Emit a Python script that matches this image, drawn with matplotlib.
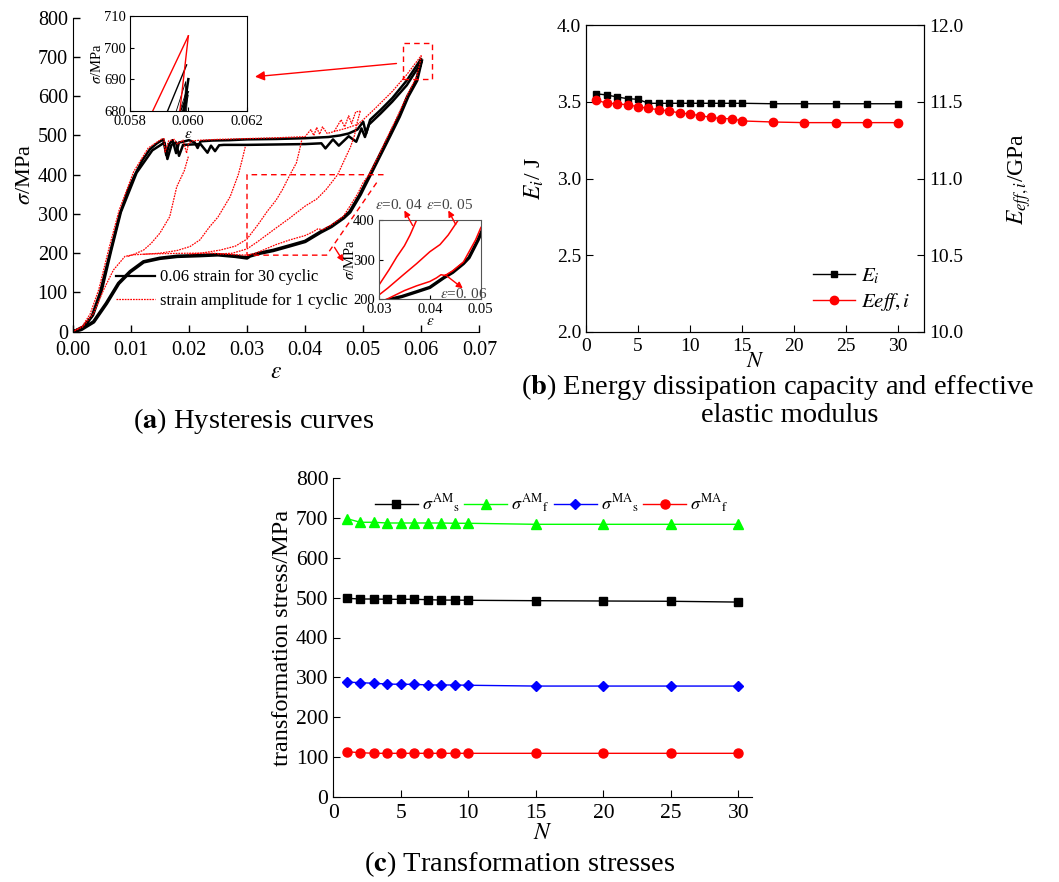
import matplotlib
matplotlib.use("Agg")
import matplotlib.pyplot as plt
import numpy as np

plt.rcParams['font.family'] = ['Liberation Serif', 'DejaVu Serif']
plt.rcParams['mathtext.fontset'] = 'stix'

W, H = 1059, 882

# ---------------- (a) hysteresis curves ----------------
# black: 0.06 strain, 30 cycles (first and last loading paths + common unloading)
eps_c1 = [0, 0.0018, 0.0033, 0.0047, 0.0064, 0.0081, 0.0095, 0.0107, 0.012, 0.0133, 0.0145,
          0.0156, 0.0161, 0.0166, 0.0172, 0.0178, 0.0183, 0.019, 0.02, 0.021, 0.0215, 0.022,
          0.024, 0.027, 0.03, 0.035, 0.04, 0.044, 0.046, 0.0475, 0.049, 0.05, 0.0505, 0.0512,
          0.053, 0.055, 0.0575, 0.05994]
sig_c1 = [0, 13, 40, 100, 200, 300, 360, 400, 437, 465, 480, 490, 450, 478, 488, 455, 482,
          484, 488, 482, 468, 485, 487, 488, 490, 491, 493, 496, 500, 505, 515, 535, 505, 540,
          565, 595, 640, 694.5]
eps_c30 = [0, 0.002, 0.0035, 0.005, 0.0066, 0.0083, 0.011, 0.0137, 0.0158, 0.0163, 0.017,
           0.0178, 0.0183, 0.019, 0.022, 0.0232, 0.0238, 0.0245, 0.0252, 0.026, 0.03, 0.035,
           0.04, 0.0428, 0.0435, 0.0448, 0.0458, 0.0475, 0.0488, 0.0497, 0.0503, 0.051, 0.053,
           0.055, 0.0575, 0.06]
sig_c30 = [0, 12, 42, 105, 205, 305, 405, 462, 482, 440, 476, 482, 448, 476, 478, 456, 474,
           460, 475, 476, 476, 477, 478, 480, 467, 490, 474, 498, 484, 518, 496, 528, 556,
           586, 628, 686]
eps_unl = [0.06, 0.0592, 0.0577, 0.0562, 0.0546, 0.0529, 0.0512, 0.05, 0.0495, 0.0477, 0.0466,
           0.0445, 0.0427, 0.04, 0.0374, 0.0345, 0.0322, 0.0305, 0.03, 0.028, 0.025, 0.022,
           0.018, 0.015, 0.0122, 0.0099, 0.0079, 0.0058, 0.0036, 0.0015, 0]
sig_unl = [690, 640, 600, 548, 500, 450, 400, 365, 350, 305, 290, 268, 254, 230, 219, 207,
           200, 193, 188, 192, 196, 194, 192, 187, 178, 153, 123, 72, 25, 6, 0]

# red: strain amplitude for 1 cycle (0.02 ... 0.06)
eps_rl = [0, 0.0017, 0.003, 0.0045, 0.0062, 0.008, 0.0105, 0.013, 0.0152, 0.0157, 0.0159,
          0.0165, 0.0175, 0.018, 0.019, 0.0196, 0.0199, 0.0205, 0.022, 0.025, 0.03, 0.035,
          0.04, 0.041, 0.0415, 0.042, 0.0425, 0.043, 0.0438, 0.045, 0.047, 0.049, 0.05,
          0.052, 0.055, 0.0575, 0.06]
sig_rl = [0, 15, 45, 108, 210, 310, 408, 468, 490, 492, 458, 486, 490, 478, 488, 455, 478,
          486, 488, 490, 492, 494, 497, 515, 500, 520, 503, 522, 505, 510, 518, 528, 540, 568,
          612, 655, 703.7]
eps_r05 = [0.045, 0.0462, 0.0468, 0.0475, 0.048, 0.0487, 0.0495]
sig_r05 = [510, 540, 522, 550, 530, 560, 562]

eps_u02 = [0.0199, 0.0192, 0.0179, 0.0167, 0.015, 0.0135, 0.0122, 0.0105, 0.0093]
sig_u02 = [446, 410, 369, 293, 251, 225, 208, 197, 191]
eps_u03 = [0.0297, 0.0292, 0.0285, 0.0271, 0.025, 0.0236, 0.0219, 0.0202, 0.018, 0.015, 0.012]
sig_u03 = [471, 440, 400, 344, 292, 268, 234, 217, 207, 200, 197]
eps_u04 = [0.0394, 0.039, 0.0385, 0.0374, 0.0361, 0.035, 0.0335, 0.032, 0.03, 0.028, 0.0254,
           0.022, 0.02]
sig_u04 = [487, 460, 430, 400, 362, 335, 307, 275, 236, 218, 208, 200, 198]
eps_u05 = [0.0495, 0.049, 0.0485, 0.0478, 0.047, 0.0456, 0.0436, 0.042, 0.04, 0.0374, 0.0348,
           0.0317, 0.03, 0.0275, 0.025]
sig_u05 = [562, 535, 500, 470, 445, 400, 362, 338, 320, 290, 262, 228, 211, 200, 198]
eps_u06 = [0.06, 0.05971, 0.0592, 0.0575, 0.056, 0.0543, 0.0527, 0.051, 0.05, 0.049, 0.0466,
           0.0445, 0.043, 0.0422, 0.0413, 0.04, 0.0374, 0.035, 0.0315, 0.03, 0.027, 0.024, 0.02,
           0.016, 0.013, 0.0105, 0.009, 0.007, 0.0053, 0.0036, 0.0017, 0]
sig_u06 = [703.7, 680, 650, 600, 552, 500, 450, 400, 380, 350, 294, 272, 260, 262, 254, 245,
           234, 222, 200, 195, 197, 200, 200, 199, 198, 196, 192, 157, 106, 47, 12, 0]

# intermediate cycle peaks seen in the upper inset
pk_eps_start = [0.059486, 0.0596, 0.059714, 0.059771]
pk_eps = [0.059909, 0.059966, 0.059977, 0.06]
pk_sig = [689.2, 687.1, 686.0, 685.0]
pk_eps_end = [0.059851, 0.059886, 0.05992, 0.059829]

# ---------------- (b) energy / modulus ----------------
N_b = [1, 2, 3, 4, 5, 6, 7, 8, 9, 10, 11, 12, 13, 14, 15, 18, 21, 24, 27, 30]
E_i = [3.552, 3.544, 3.531, 3.52, 3.516, 3.49, 3.49, 3.49, 3.49, 3.49, 3.49, 3.49, 3.49,
       3.49, 3.49, 3.487, 3.487, 3.487, 3.487, 3.487]
E_eff = [11.511, 11.49, 11.487, 11.48, 11.468, 11.457, 11.448, 11.44, 11.427, 11.42, 11.409,
         11.399, 11.39, 11.39, 11.375, 11.368, 11.364, 11.364, 11.364, 11.364]

# ---------------- (c) transformation stresses ----------------
N_c = [1, 2, 3, 4, 5, 6, 7, 8, 9, 10, 15, 20, 25, 30]
s_AM_s = [498.5, 496.7, 496.7, 496, 496, 496, 495, 494, 494, 493.5, 492.5, 491.7, 491, 489]
s_AM_f = [698.7, 689.5, 689.5, 687.7, 687.7, 687.7, 687.7, 687.7, 687, 687, 684.4, 684.4,
          684.4, 684.4]
s_MA_s = [288, 286.5, 285, 283, 282.4, 282.4, 280.7, 280.7, 280.7, 280, 278, 278, 278, 278]
s_MA_f = [113, 110.6, 109, 109, 109, 109, 109, 109, 109, 109, 109, 109, 109, 109]


def box(x0, y0, x1, y1):
    # pixel box -> figure fraction rect
    return [x0 / W, 1 - y1 / H, (x1 - x0) / W, (y1 - y0) / H]


def fp(x, y):
    return (x / W, 1 - y / H)


fig = plt.figure(figsize=(W / 100, H / 100), dpi=100)
RED_DOT = (0, (1.4, 0.8))


def draw_hysteresis(ax, lw_k=1.8, lw_r=0.9, red_ls=RED_DOT):
    ax.plot(eps_c30, sig_c30, color='black', lw=lw_k)
    ax.plot(eps_c1, sig_c1, color='black', lw=lw_k)
    ax.plot(eps_unl, sig_unl, color='black', lw=lw_k + 0.8)
    for e0, e1, s1, e2 in zip(pk_eps_start, pk_eps, pk_sig, pk_eps_end):
        ax.plot([e0, e1, e2], [680 - 3, s1, 680 - 3], color='black', lw=lw_k * 0.6)
    for ex, sx in [(eps_rl, sig_rl), (eps_r05, sig_r05), (eps_u02, sig_u02), (eps_u03, sig_u03),
                   (eps_u04, sig_u04), (eps_u05, sig_u05), (eps_u06, sig_u06)]:
        ax.plot(ex, sx, color='red', lw=lw_r, ls=red_ls)


ax_a = fig.add_axes(box(72.7, 17.7, 479.4, 331.7))
draw_hysteresis(ax_a)
ax_a.plot([], [], color='black', lw=1.6, label='0.06 strain for 30 cyclic')
ax_a.plot([], [], color='red', lw=0.9, ls=RED_DOT, label='strain amplitude for 1 cyclic')
ax_a.set_xlim(0, 0.07)
ax_a.set_ylim(0, 800)
ax_a.set_xticks(np.arange(0, 0.0701, 0.01))
ax_a.set_xticklabels(['%.2f' % v for v in np.arange(0, 0.0701, 0.01)])
ax_a.set_yticks(range(0, 801, 100))
ax_a.spines['top'].set_visible(False)
ax_a.spines['right'].set_visible(False)
ax_a.tick_params(direction='in', labelsize=14.5, length=5, width=1)
ax_a.tick_params(axis='x', pad=7)
ax_a.set_xlabel(r'$\varepsilon$', fontsize=17, labelpad=1)
ax_a.set_ylabel(r'$\sigma$/MPa', fontsize=16, labelpad=2)
hh, ll = ax_a.get_legend_handles_labels()
ax_a.legend(hh[-2:], ll[-2:], loc='lower left', bbox_to_anchor=(0.07, 0.025), frameon=False,
            fontsize=12, handlelength=2.3, handletextpad=0.3, labelspacing=0.45)

# zoom markers drawn in data coords of panel (a)
ax_a.plot([0.0569, 0.0618, 0.0618, 0.0569, 0.0569], [644, 644, 736, 736, 644],
          color='red', lw=1, ls=(0, (4, 3)))
ax_a.annotate('', xy=(0.0309, 649), xytext=(0.0562, 684),
              arrowprops=dict(arrowstyle='-|>', color='red', lw=1, mutation_scale=14))
ax_a.plot([0.0535, 0.03, 0.03, 0.0437, 0.0527], [400, 400, 195, 195, 388],
          color='red', lw=1, ls=(0, (4, 3)))

# inset 1 (peak)
ax_i1 = fig.add_axes(box(130, 16, 246.7, 110.7))
draw_hysteresis(ax_i1, lw_k=1.0, lw_r=1.0, red_ls='-')
ax_i1.set_xlim(0.058, 0.062)
ax_i1.set_ylim(680, 710)
ax_i1.set_xticks([0.058, 0.060, 0.062])
ax_i1.set_xticklabels(['0.058', '0.060', '0.062'])
ax_i1.set_yticks([680, 690, 700, 710])
ax_i1.tick_params(direction='in', labelsize=10.5, length=3, pad=3)
ax_i1.tick_params(axis='x', pad=3)
ax_i1.set_xlabel(r'$\varepsilon$', fontsize=11, labelpad=0)
ax_i1.set_ylabel(r'$\sigma$/MPa', fontsize=10.5, labelpad=0)

# inset 2 (lower branch)
ax_i2 = fig.add_axes(box(379, 220, 480.7, 299.3))
draw_hysteresis(ax_i2, lw_k=1.6, lw_r=1.1, red_ls='-')
ax_i2.set_xlim(0.03, 0.05)
ax_i2.set_ylim(200, 400)
ax_i2.set_xticks([0.03, 0.04, 0.05])
ax_i2.set_xticklabels(['0.03', '0.04', '0.05'])
ax_i2.set_yticks([200, 300, 400])
ax_i2.tick_params(direction='in', labelsize=10.5, length=3, pad=3)
ax_i2.tick_params(axis='x', pad=3)
ax_i2.set_xlabel(r'$\varepsilon$', fontsize=11, labelpad=-1)
ax_i2.set_ylabel(r'$\sigma$/MPa', fontsize=10.5, labelpad=-3)
for sp in ax_i2.spines.values():
    sp.set_color('#555555')

arr = dict(arrowstyle='-|>', color='red', lw=1, mutation_scale=9)
fig.text(*fp(375, 209), r'$\varepsilon$=0. 04', fontsize=11, color='#444444')
fig.text(*fp(426, 209), r'$\varepsilon$=0. 05', fontsize=11, color='#444444')
fig.text(*fp(440, 298), r'$\varepsilon$=0. 06', fontsize=11, color='#444444')
fig.add_artist(matplotlib.patches.FancyArrowPatch(fp(414, 228), fp(403, 208), transform=fig.transFigure, **arr))
fig.add_artist(matplotlib.patches.FancyArrowPatch(fp(457, 227), fp(447, 208), transform=fig.transFigure, **arr))
fig.add_artist(matplotlib.patches.FancyArrowPatch(fp(443, 273), fp(465, 290), transform=fig.transFigure, **arr))
fig.add_artist(matplotlib.patches.FancyArrowPatch(fp(333, 245), fp(345, 264), transform=fig.transFigure, **arr))

fig.text(254 / W, 1 - 421 / H, r'($\mathbf{a}$) Hysteresis curves', fontsize=20.5,
         ha='center', va='center')

# ---------------- panel (b) ----------------
ax_b = fig.add_axes(box(586, 25, 924, 332))
ax_b.plot(N_b, E_i, color='black', marker='s', ms=5, lw=1, label=r'$E_i$')
ax_b.set_xlim(0, 32.5)
ax_b.set_ylim(2.0, 4.0)
ax_b.set_xticks(range(0, 31, 5))
ax_b.set_yticks([2.0, 2.5, 3.0, 3.5, 4.0])
ax_b.tick_params(direction='in', labelsize=14, length=5)
ax_b.tick_params(axis='x', pad=4)
ax_b.set_xlabel(r'$N$', fontsize=16, labelpad=-1)
ax_b.set_ylabel(r'$E_i$/ J', fontsize=17, labelpad=8)
ax_b2 = ax_b.twinx()
ax_b2.plot(N_b, E_eff, color='red', marker='o', ms=6, lw=1, label=r'$Eeff,i$')
ax_b2.set_ylim(10.0, 12.0)
ax_b2.set_yticks([10.0, 10.5, 11.0, 11.5, 12.0])
ax_b2.tick_params(direction='in', labelsize=14, length=5)
ax_b2.set_ylabel(r'$E_{eff,i}$/GPa', fontsize=17, labelpad=30)
h1, l1 = ax_b.get_legend_handles_labels()
h2, l2 = ax_b2.get_legend_handles_labels()
ax_b2.legend(h1 + h2, l1 + l2, loc='lower right', bbox_to_anchor=(1.015, 0.0), frameon=False,
             fontsize=15, handlelength=2.0, handletextpad=0.3, labelspacing=0.25)

fig.text(777 / W, 1 - 387 / H, r'($\mathbf{b}$) Energy dissipation capacity and effective',
         fontsize=20.5, ha='center', va='center')
fig.text(790 / W, 1 - 416 / H, 'elastic modulus', fontsize=20.5, ha='center', va='center')

# ---------------- panel (c) ----------------
ax_c = fig.add_axes(box(333.3, 478.3, 752, 796.7))
ax_c.plot(N_c, s_AM_s, color='black', marker='s', ms=6, lw=1,
          label=r'$\sigma^{\mathrm{AM}}{}_{\mathrm{s}}$')
ax_c.plot(N_c, s_AM_f, color='#00ff00', marker='^', ms=7, lw=1,
          label=r'$\sigma^{\mathrm{AM}}{}_{\mathrm{f}}$')
ax_c.plot(N_c, s_MA_s, color='#0000ff', marker='D', ms=5.5, lw=1,
          label=r'$\sigma^{\mathrm{MA}}{}_{\mathrm{s}}$')
ax_c.plot(N_c, s_MA_f, color='red', marker='o', ms=6.5, lw=1,
          label=r'$\sigma^{\mathrm{MA}}{}_{\mathrm{f}}$')
ax_c.set_xlim(0, 31)
ax_c.set_ylim(0, 800)
ax_c.set_xticks(range(0, 31, 5))
ax_c.set_yticks(range(0, 801, 100))
ax_c.spines['top'].set_visible(False)
ax_c.spines['right'].set_visible(False)
ax_c.tick_params(direction='in', labelsize=15.5, length=5)
ax_c.tick_params(axis='x', pad=5)
ax_c.set_xlabel(r'$N$', fontsize=17, labelpad=0)
ax_c.set_ylabel('transformation stress/MPa', fontsize=17.5, labelpad=2)
ax_c.legend(loc='upper left', bbox_to_anchor=(0.06, 1.005), ncol=4, frameon=False, fontsize=13,
            handlelength=2.4, handletextpad=0.2, columnspacing=0.25)

fig.text(520 / W, 1 - 864 / H, r'($\mathbf{c}$) Transformation stresses', fontsize=20.5,
         ha='center', va='center')

fig.savefig('out.png', dpi=100)
